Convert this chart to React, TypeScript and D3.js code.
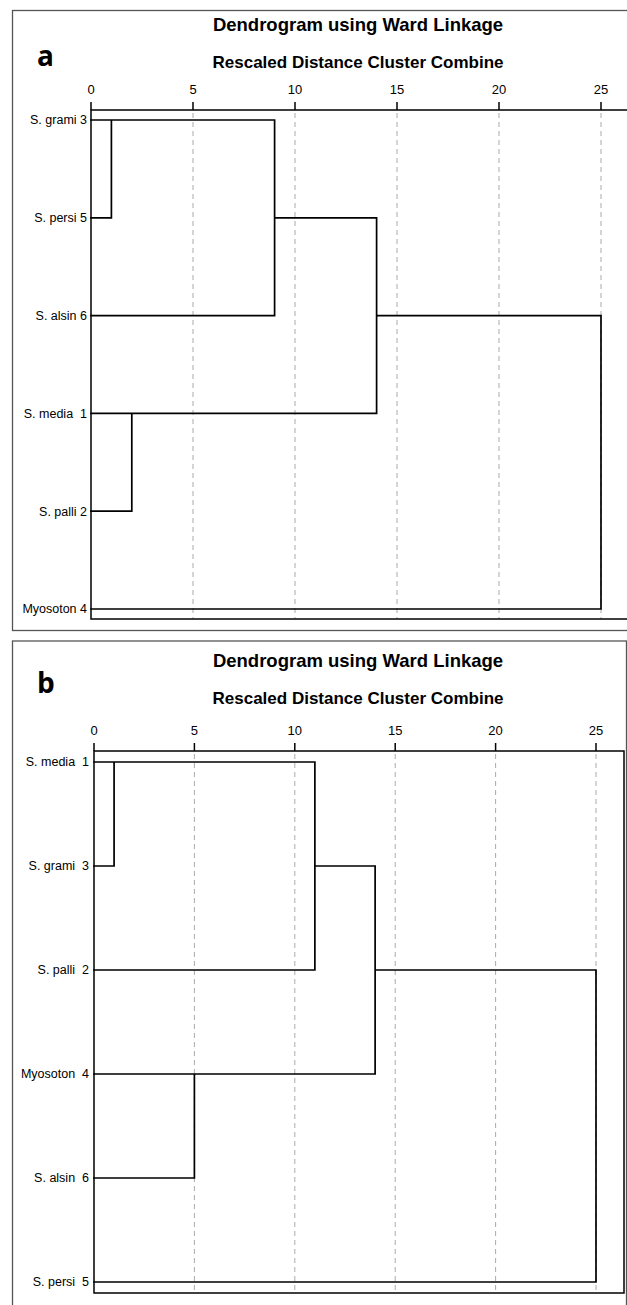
import React from "react";
import * as d3 from "d3";

// ---- Data ----
const labelsA = ["S. grami 3", "S. persi 5", "S. alsin 6", "S. media\u00a0 1", "S. palli 2", "Myosoton 4"];
// [childA, childB, rescaled distance]; ids >= 6 refer to earlier merges
const mergesA: [number, number, number][] = [
  [0, 1, 1],
  [6, 2, 9],
  [3, 4, 2],
  [7, 8, 14],
  [9, 5, 25],
];

const labelsB = ["S. media\u00a0 1", "S. grami\u00a0 3", "S. palli\u00a0 2", "Myosoton\u00a0 4", "S. alsin\u00a0 6", "S. persi\u00a0 5"];
const mergesB: [number, number, number][] = [
  [0, 1, 1],
  [6, 2, 11],
  [3, 4, 5],
  [7, 8, 14],
  [9, 5, 25],
];

const axisDomain: [number, number] = [0, 25];
const titleText = "Dendrogram using Ward Linkage";
const subtitleText = "Rescaled Distance Cluster Combine";

// ---- Layout ----
type Layout = {
  letter: string;
  frame: { x: number; y: number; w: number; h: number };
  titleY: number;
  subY: number;
  letterY: number;
  tickY: number;
  axisY: number;
  bottomY: number;
  x0: number;
  x25: number;
  rightX: number;
  firstRow: number;
  lastRow: number;
  labelGap: number;
};

const layoutA: Layout = {
  letter: "a",
  frame: { x: 12.5, y: 10.5, w: 700, h: 620 },
  titleY: 31,
  subY: 68,
  letterY: 66,
  tickY: 94,
  axisY: 110,
  bottomY: 619,
  x0: 91,
  x25: 601,
  rightX: 700,
  firstRow: 120,
  lastRow: 609,
  labelGap: 4,
};

const layoutB: Layout = {
  letter: "b",
  frame: { x: 12.5, y: 641, w: 614, h: 700 },
  titleY: 667,
  subY: 704,
  letterY: 693,
  tickY: 735,
  axisY: 751,
  bottomY: 1293,
  x0: 94,
  x25: 596,
  rightX: 624,
  firstRow: 762,
  lastRow: 1282,
  labelGap: 5,
};

function buildSegments(labels: string[], merges: [number, number, number][]) {
  const pos = labels.map((_, i) => ({ row: i, h: 0 }));
  const segs: { x1: number; x2: number; y1: number; y2: number }[] = [];
  merges.forEach(([a, b, h]) => {
    const A = pos[a];
    const B = pos[b];
    segs.push({ x1: A.h, x2: h, y1: A.row, y2: A.row });
    segs.push({ x1: B.h, x2: h, y1: B.row, y2: B.row });
    segs.push({ x1: h, x2: h, y1: A.row, y2: B.row });
    pos.push({ row: Math.floor((A.row + B.row) / 2), h });
  });
  return segs;
}

const FONT = "'Liberation Sans', Arial, sans-serif";

function Panel({ L, labels, merges }: { L: Layout; labels: string[]; merges: [number, number, number][] }) {
  const x = d3.scaleLinear().domain(axisDomain).range([L.x0, L.x25]);
  const y = d3.scaleLinear().domain([0, labels.length - 1]).range([L.firstRow, L.lastRow]);
  const ticks = x.ticks(5);
  const segs = buildSegments(labels, merges);
  const path = d3.path();
  segs.forEach((s) => {
    path.moveTo(x(s.x1), y(s.y1));
    path.lineTo(x(s.x2), y(s.y2));
  });
  const titleX = 358;
  return (
    <g>
      <rect x={L.frame.x} y={L.frame.y} width={L.frame.w} height={L.frame.h} fill="none" stroke="#555" strokeWidth={1.3} />
      <text x={titleX} y={L.titleY} textAnchor="middle" fontFamily={FONT} fontWeight="bold" fontSize={18.5} fill="#000">
        {titleText}
      </text>
      <text x={titleX} y={L.subY} textAnchor="middle" fontFamily={FONT} fontWeight="bold" fontSize={17} fill="#000">
        {subtitleText}
      </text>
      <text x={37} y={L.letterY} fontFamily="'Open Sans', sans-serif" fontWeight="bold" fontSize={28} fill="#000">
        {L.letter}
      </text>
      {/* gridlines */}
      {ticks
        .filter((t) => t > 0)
        .map((t) => (
          <line key={"g" + t} x1={x(t)} x2={x(t)} y1={L.axisY + 3} y2={L.bottomY} stroke="#aaa" strokeWidth={1} strokeDasharray="5,4" />
        ))}
      {/* ticks + labels */}
      {ticks.map((t) => (
        <g key={"t" + t}>
          <line x1={x(t)} x2={x(t)} y1={L.axisY} y2={L.axisY - 8} stroke="#000" strokeWidth={1.5} />
          <text x={x(t)} y={L.tickY} textAnchor="middle" fontFamily={FONT} fontSize={13} fill="#000">
            {t}
          </text>
        </g>
      ))}
      {/* plot box */}
      <rect x={L.x0} y={L.axisY} width={L.rightX - L.x0} height={L.bottomY - L.axisY} fill="none" stroke="#000" strokeWidth={1.5} />
      {/* leaf labels */}
      {labels.map((lab, i) => (
        <text key={"l" + i} x={L.x0 - L.labelGap} y={y(i)} dy="0.35em" textAnchor="end" fontFamily={FONT} fontSize={12.5} fill="#000">
          {lab}
        </text>
      ))}
      {/* tree */}
      <path d={path.toString()} fill="none" stroke="#000" strokeWidth={1.7} strokeLinecap="square" />
    </g>
  );
}

export default function App() {
  return (
    <svg width={627} height={1305} style={{ position: "absolute", left: 0, top: 0, background: "#fff" }}>
      <rect x={0} y={0} width={627} height={1305} fill="#fff" />
      <Panel L={layoutA} labels={labelsA} merges={mergesA} />
      <Panel L={layoutB} labels={labelsB} merges={mergesB} />
    </svg>
  );
}
